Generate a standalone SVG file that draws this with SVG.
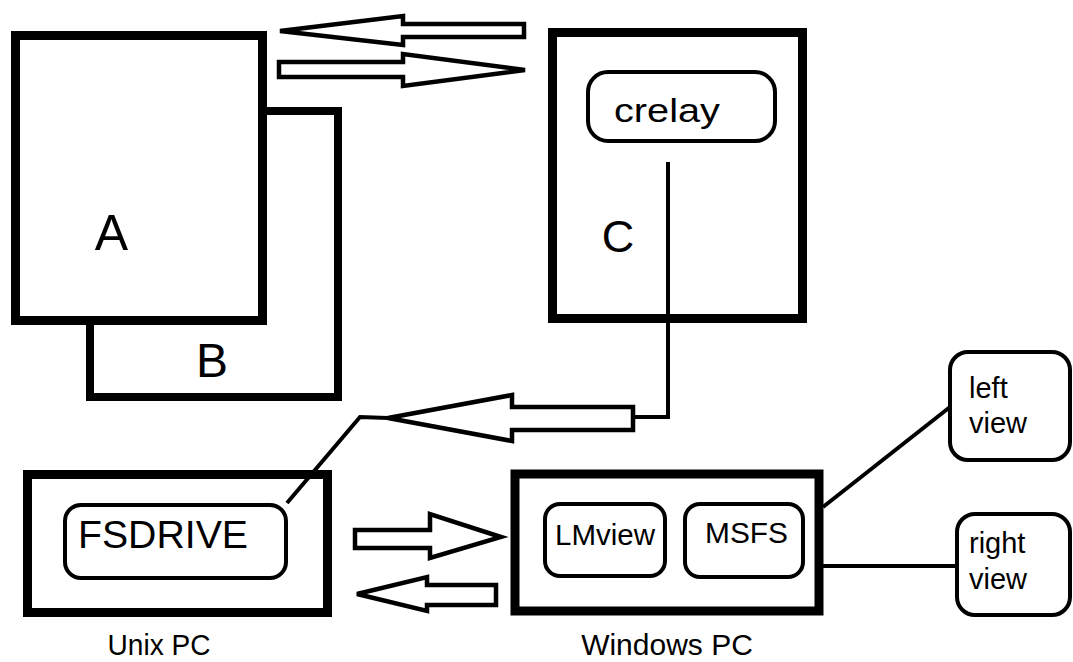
<svg xmlns="http://www.w3.org/2000/svg" width="1073" height="662" viewBox="0 0 1073 662">
<style>
.box{fill:#fff;stroke:#000;stroke-width:9}
.rbox{fill:#fff;stroke:#000;stroke-width:4}
.line{fill:none;stroke:#000;stroke-width:4}
.arrow{fill:#fff;stroke:#000;stroke-width:4.5;stroke-linejoin:miter}
text{font-family:"Liberation Sans",Arial,sans-serif;fill:#000}
</style>
<rect width="1073" height="662" fill="#fff"/>
<g id="B">
<polyline points="267,111 338,111 338,397 90,397 90,325" fill="none" stroke="#000" stroke-width="8"/>
<text x="212" y="377" font-size="48" text-anchor="middle">B</text>
</g>
<g id="A">
<rect class="box" x="15.5" y="35.5" width="247" height="285"/>
<text x="111.5" y="250" font-size="50" text-anchor="middle">A</text>
</g>
<g id="C">
<rect class="box" x="552.5" y="32.5" width="250" height="286"/>
<text x="618" y="252" font-size="45" text-anchor="middle">C</text>
</g>
<g id="crelay">
<rect class="rbox" x="588" y="72" width="187" height="69" rx="20"/>
<text x="614" y="122" font-size="34" textLength="106" lengthAdjust="spacingAndGlyphs">crelay</text>
</g>
<g id="unixpc">
<rect class="box" x="27.5" y="474.5" width="300" height="138"/>
<text x="159" y="655" font-size="30" text-anchor="middle" textLength="103" lengthAdjust="spacingAndGlyphs">Unix PC</text>
</g>
<g id="fsdrive">
<rect class="rbox" x="65" y="505" width="221" height="73" rx="16"/>
<text x="78" y="548" font-size="39" textLength="170" lengthAdjust="spacingAndGlyphs">FSDRIVE</text>
</g>
<g id="windowspc">
<rect class="box" x="515" y="474" width="304" height="137" stroke-width="8"/>
<text x="667" y="655" font-size="30" text-anchor="middle">Windows PC</text>
</g>
<g id="lmview">
<rect class="rbox" x="545" y="504" width="120" height="72" rx="15"/>
<text x="555" y="545" font-size="29" textLength="100" lengthAdjust="spacingAndGlyphs">LMview</text>
</g>
<g id="msfs">
<rect class="rbox" x="685" y="504" width="118" height="73" rx="15"/>
<text x="705" y="543" font-size="29" textLength="83" lengthAdjust="spacingAndGlyphs">MSFS</text>
</g>
<g id="leftview">
<rect class="rbox" x="950" y="352" width="120" height="108" rx="18"/>
<text font-size="29"><tspan x="969" y="398">left</tspan><tspan x="969" y="433">view</tspan></text>
</g>
<g id="rightview">
<rect class="rbox" x="957" y="514" width="113" height="101" rx="18"/>
<text font-size="29"><tspan x="969" y="553">right</tspan><tspan x="969" y="589">view</tspan></text>
</g>
<g id="connectors">
<polygon class="arrow" points="280,31 403,16 403,24 524,24 524,37 403,37 403,45"/>
<polygon class="arrow" points="279,62 403,62 403,54 525,70 403,86 403,77 279,77"/>
<polyline class="line" points="668,162 668,417 633,417"/>
<polygon class="arrow" points="388,418 512,395 512,407 633,407 633,430 512,430 512,441"/>
<polyline class="line" points="388,418 360,417 287,503"/>
<polygon class="arrow" points="355,530 430,530 430,514 501,537 430,558 430,548 355,548"/>
<polygon class="arrow" points="357,594 427,577 427,585 496,585 496,605 427,605 427,611"/>
<line class="line" x1="823" y1="507" x2="950" y2="407"/>
<line class="line" x1="823" y1="566" x2="957" y2="566"/>
</g>
</svg>
